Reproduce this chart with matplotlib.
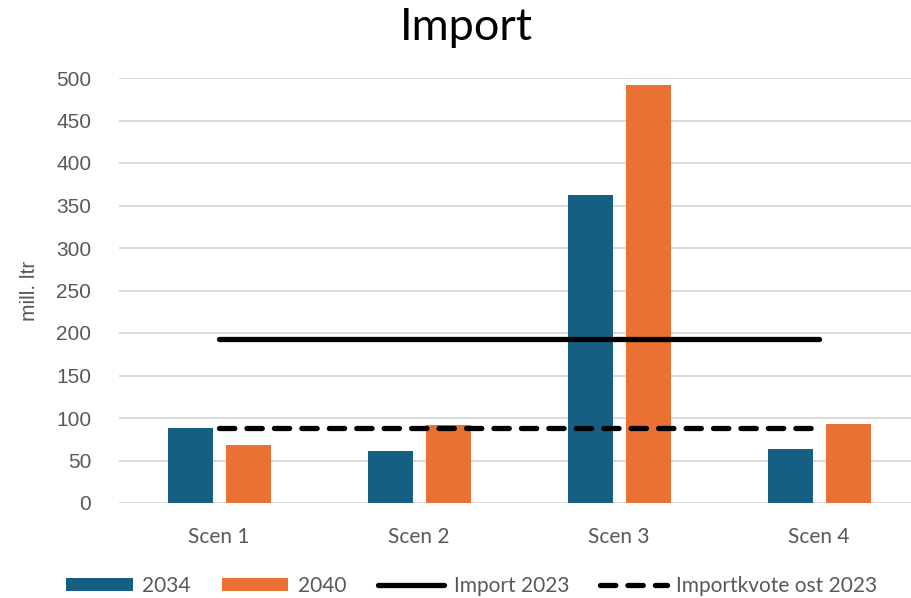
import numpy as np
import matplotlib
matplotlib.use("Agg")
import matplotlib.pyplot as plt

# values
scenarios = ["Scen 1", "Scen 2", "Scen 3", "Scen 4"]
import_2034 = [88, 61, 362, 63]
import_2040 = [68, 92, 492, 93]
import_2023 = 193
importkvote_ost_2023 = 88

blue = "#156082"
orange = "#E97132"
grey_text = "#595959"

fig = plt.figure(figsize=(9.11, 5.98), dpi=100)
# plot area runs a bit past the right edge, like the cropped screenshot
ax = fig.add_axes([119 / 911, 95 / 598, 800 / 911, 425 / 598])

x = np.arange(len(scenarios))
w = 0.225
off = 0.145
b1 = ax.bar(x - off, import_2034, w, color=blue, label="2034", zorder=2)
b2 = ax.bar(x + off, import_2040, w, color=orange, label="2040", zorder=2)

# reference lines span first to last category
l1, = ax.plot([x[0], x[-1]], [import_2023] * 2, color="black", lw=3.8,
              solid_capstyle="round", label="Import 2023", zorder=3)
l2, = ax.plot([x[0], x[-1]], [importkvote_ost_2023] * 2, color="black", lw=3.8,
              dashes=(2.9, 2.3), dash_capstyle="round",
              label="Importkvote ost 2023", zorder=3)

ax.set_xlim(-0.5, len(scenarios) - 0.5)
ax.set_ylim(0, 500)
ax.set_yticks(np.arange(0, 501, 50))
ax.set_xticks(x)
ax.set_xticklabels(scenarios, family="Lato", fontsize=15, color=grey_text)
for lbl in ax.get_yticklabels():
    lbl.set_family("Liberation Sans")
    lbl.set_fontsize(15)
    lbl.set_color(grey_text)
ax.tick_params(length=0, axis="both")
ax.tick_params(axis="y", pad=20)
ax.tick_params(axis="x", pad=17)
ax.grid(axis="y", color="#D9D9D9", lw=1.4, zorder=0)
ax.set_axisbelow(True)
for s in ax.spines.values():
    s.set_visible(False)

ax.set_ylabel("mill. ltr", family="Liberation Sans", fontsize=15,
              color=grey_text, labelpad=12)

fig.text(466 / 911, 1 - 28 / 598, "Import", ha="center", va="center",
         family="Lato", fontsize=32.5, color="black")

fig.legend([b1, b2, l1, l2], ["2034", "2040", "Import 2023", "Importkvote ost 2023"],
           loc="center left", bbox_to_anchor=(66 / 911, 1 - 586 / 598),
           ncol=4, frameon=False,
           prop={"family": "Lato", "size": 15},
           labelcolor=grey_text, handlelength=3.2, handleheight=0.6,
           handletextpad=0.45, columnspacing=1.5, borderaxespad=0,
           borderpad=0)

fig.savefig("out.png", dpi=100)
